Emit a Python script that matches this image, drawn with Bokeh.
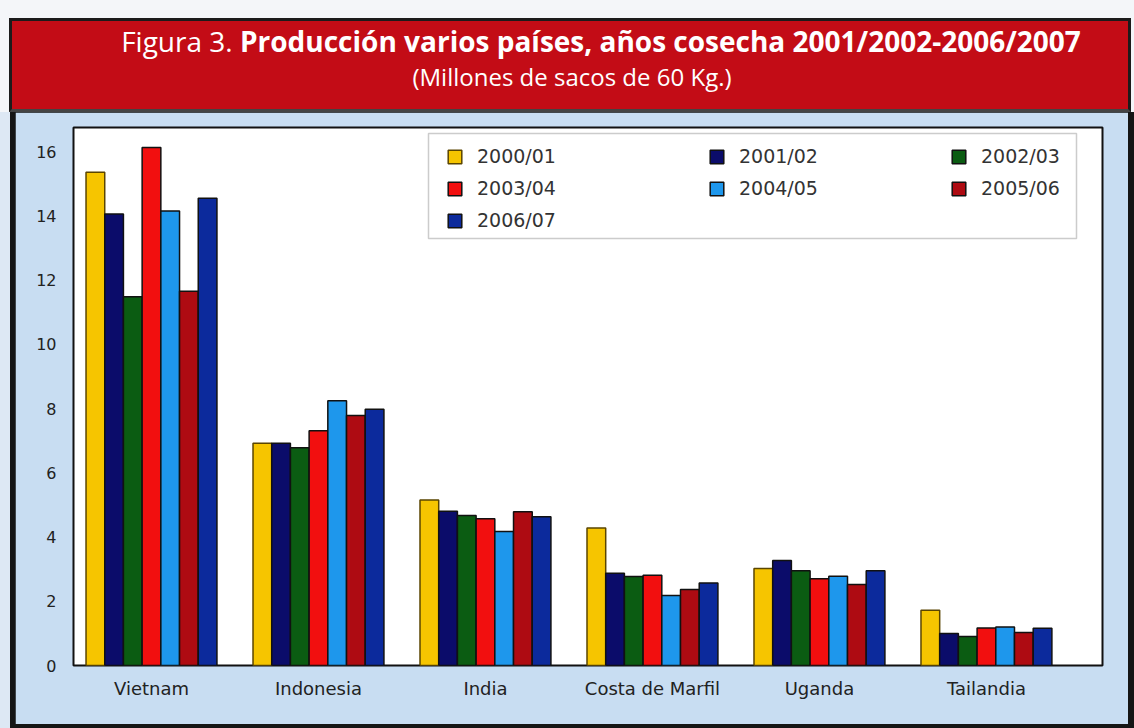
import numpy as np
from bokeh.plotting import figure
from bokeh.models import (Range1d, FixedTicker, Legend, LegendItem, BoxAnnotation, Div, ColumnDataSource)
from bokeh.layouts import column
from bokeh.embed import file_html
from bokeh.resources import INLINE

countries = ["Vietnam", "Indonesia", "India", "Costa de Marfil", "Uganda", "Tailandia"]
seasons = ["2000/01", "2001/02", "2002/03", "2003/04", "2004/05", "2005/06", "2006/07"]

s2000_01 = [15.36, 6.92, 5.15, 4.28, 3.02, 1.72]
s2001_02 = [14.06, 6.92, 4.80, 2.87, 3.27, 1.00]
s2002_03 = [11.48, 6.78, 4.67, 2.77, 2.95, 0.90]
s2003_04 = [16.13, 7.31, 4.57, 2.81, 2.70, 1.17]
s2004_05 = [14.15, 8.24, 4.17, 2.18, 2.78, 1.20]
s2005_06 = [11.65, 7.78, 4.79, 2.37, 2.52, 1.03]
s2006_07 = [14.55, 7.98, 4.63, 2.57, 2.95, 1.16]
series = [s2000_01, s2001_02, s2002_03, s2003_04, s2004_05, s2005_06, s2006_07]

colors = ["#F6C500", "#0B0C6A", "#0B5C12", "#F20F0F", "#1E97EC", "#AE0B12", "#0C2A9C"]
outlines = ["#5a4500", "#111111", "#111111", "#111111", "#111111", "#111111", "#111111"]

TITLE_BG = "#C30C16"
PANEL_BG = "#C8DDF2"
TFONT = "Open Sans"
FONT = "DejaVu Sans"

W = 1134
HEADER_H = 112
FIG_W = 1113
FIG_H = 612

header_html = f"""
<div style="box-sizing:border-box;width:{W}px;height:{HEADER_H}px;background:#f4f6f9;padding-top:18px;padding-left:9px;">
<div style="box-sizing:border-box;width:1122px;height:{HEADER_H-18}px;background:{TITLE_BG};
border:3px solid #1b1b1b;border-bottom:3px solid #444;color:white;font-family:'{TFONT}';text-align:center;padding-top:3px;">
<div style="font-size:28px;line-height:34px;padding-left:62px;"><span>Figura 3.</span> <b>Producción varios países, años cosecha 2001/2002-2006/2007</b></div>
<div style="font-size:24px;line-height:30px;margin-top:4px;padding-left:4px;">(Millones de sacos de 60 Kg.)</div>
</div></div>
"""
header = Div(text=header_html, width=W, height=HEADER_H, margin=(0, 0, 0, 0))

p = figure(width=FIG_W, height=FIG_H, output_backend="svg", toolbar_location=None,
           x_range=Range1d(-0.467, 5.695), y_range=Range1d(0, 16.75),
           min_border_left=58, min_border_right=26, min_border_top=15, min_border_bottom=59,
           title=None, margin=(0, 6, 4, 15))
p.background_fill_color = "white"
p.border_fill_color = PANEL_BG
p.outline_line_color = "#111111"
p.outline_line_width = 2
p.xgrid.visible = False
p.ygrid.visible = False

bar_w = 0.112
xc = np.arange(len(countries))
renderers = []
for j, vals in enumerate(series):
    src = ColumnDataSource(dict(x=xc + (j - 3) * bar_w, top=vals))
    r = p.vbar(x="x", top="top", width=bar_w, bottom=0, source=src,
               fill_color=colors[j], line_color=outlines[j], line_width=1.5)
    renderers.append(r)

p.xaxis.ticker = FixedTicker(ticks=list(range(len(countries))))
p.xaxis.major_label_overrides = {i: c for i, c in enumerate(countries)}
p.yaxis.ticker = FixedTicker(ticks=[0, 2, 4, 6, 8, 10, 12, 14, 16])
for ax in (p.xaxis[0], p.yaxis[0]):
    ax.axis_line_color = None
    ax.major_tick_line_color = None
    ax.minor_tick_line_color = None
    ax.major_tick_out = 0
    ax.major_tick_in = 0
    ax.minor_tick_out = 0
    ax.major_label_text_font = FONT
    ax.major_label_text_color = "#222222"
p.xaxis.major_label_text_font_size = "18px"
p.xaxis.major_label_standoff = 12
p.yaxis.major_label_text_font_size = "16px"
p.yaxis.major_label_standoff = 17

# legend frame box (screen units relative to plot frame)
box = BoxAnnotation(left=355, right=1003, top=532, bottom=427,
                    left_units="screen", right_units="screen", top_units="screen", bottom_units="screen",
                    fill_color="white", fill_alpha=1.0, line_color="#555555", line_width=1.5)
p.add_layout(box)

cols = [[0, 3, 6], [1, 4], [2, 5]]
xs = [373, 635, 877]
ITEM_H = 26
SP = 6
for ci, idxs in enumerate(cols):
    items = [LegendItem(label=seasons[k], renderers=[renderers[k]]) for k in idxs]
    n = len(idxs)
    height = n * ITEM_H + (n - 1) * SP
    lg = Legend(items=items, location=(xs[ci], 665 - 143 - height),
                padding=0, margin=0, spacing=SP,
                border_line_color=None, background_fill_alpha=0,
                glyph_width=17, glyph_height=17, label_standoff=14, label_height=ITEM_H,
                label_text_font=FONT, label_text_font_size="19px", label_text_color="#333333")
    p.add_layout(lg)

layout = column(header, p, spacing=0, margin=(0, 0, 0, 0),
                styles={"background": "linear-gradient(to right, #dde8f4 0px, #dde8f4 10px, #151515 10px)"})
open("out.html", "w").write(file_html(layout, INLINE))
